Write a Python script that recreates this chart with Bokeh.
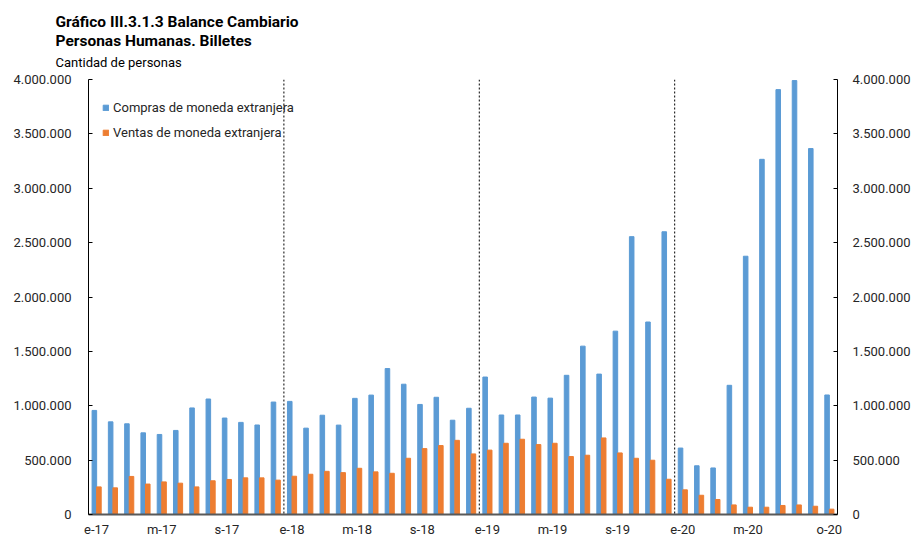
from bokeh.plotting import figure
from bokeh.models import (ColumnDataSource, LinearAxis, FixedTicker, Span, Title, Range1d)
from bokeh.embed import file_html
from bokeh.resources import INLINE

# ---- data ----
years = ["17", "18", "19", "20"]
month_abbr = ["e", "f", "m", "a", "m", "j", "j", "a", "s", "o", "n", "d"]
months = [f"{m}-{y}" for y in years for m in month_abbr][:46]

compras = [957000, 852000, 834000, 751000, 736000, 773000, 980000, 1062000, 887000, 847000, 823000, 1034000,
           1040000, 794000, 913000, 822000, 1068000, 1098000, 1342000, 1198000, 1012000, 1078000, 867000, 977000,
           1264000, 915000, 915000, 1080000, 1070000, 1280000, 1548000, 1291000, 1686000, 2555000, 1770000, 2600000,
           611000, 448000, 428000, 1188000, 2375000, 3266000, 3907000, 3990000, 3365000, 1099000]
ventas = [254000, 245000, 350000, 280000, 300000, 288000, 254000, 310000, 322000, 337000, 337000, 316000,
          352000, 370000, 397000, 385000, 425000, 392000, 379000, 517000, 606000, 634000, 682000, 557000,
          592000, 655000, 692000, 643000, 655000, 533000, 545000, 704000, 566000, 517000, 499000, 324000,
          227000, 177000, 138000, 88000, 67000, 67000, 83000, 88000, 76000, 49000]

x_tick_idx = [0, 4, 8, 12, 16, 20, 24, 28, 32, 36, 40, 45]
x_tick_labels = ["e-17", "m-17", "s-17", "e-18", "m-18", "s-18", "e-19", "m-19", "s-19", "e-20", "m-20", "o-20"]
y_ticks = [0, 500000, 1000000, 1500000, 2000000, 2500000, 3000000, 3500000, 4000000]
y_tick_labels = ["0", "500.000", "1.000.000", "1.500.000", "2.000.000", "2.500.000", "3.000.000", "3.500.000", "4.000.000"]
year_breaks = [11.5, 23.5, 35.5]

title_lines = ["Gráfico III.3.1.3 Balance Cambiario", "Personas Humanas. Billetes", "Cantidad de personas"]
series_names = ["Compras de moneda extranjera", "Ventas de moneda extranjera"]

BLUE = "#5B9BD5"
ORANGE = "#ED7D31"
FONT = "Roboto"

idx = list(range(len(months)))
src = ColumnDataSource(dict(
    xb=[i - 0.14 for i in idx],
    xo=[i + 0.14 for i in idx],
    compras=compras, ventas=ventas, mes=months))

p = figure(width=913, height=539, x_range=Range1d(-0.5, len(months) - 0.5),
           y_range=Range1d(0, 4000000), output_backend="svg", toolbar_location=None,
           min_border_left=88, min_border_right=76, min_border_top=0, min_border_bottom=24)
p.outline_line_color = None
p.xgrid.visible = False
p.ygrid.visible = False
p.background_fill_color = "white"

p.vbar(x="xb", top="compras", width=0.28, source=src, color=BLUE, legend_label=series_names[0])
p.vbar(x="xo", top="ventas", width=0.28, source=src, color=ORANGE, legend_label=series_names[1])

for loc in year_breaks:
    p.add_layout(Span(location=loc, dimension="height", line_color="black", line_width=1, line_dash="2 2"))

# x axis
xa = p.xaxis[0]
xa.ticker = FixedTicker(ticks=x_tick_idx)
xa.major_label_overrides = {i: l for i, l in zip(x_tick_idx, x_tick_labels)}
xa.axis_line_color = "#595959"
xa.axis_line_width = 2
xa.major_tick_line_color = None
xa.minor_tick_line_color = None
xa.major_label_standoff = 1
xa.major_label_text_font = FONT
xa.major_label_text_font_size = "13px"
xa.major_label_text_color = "#262626"

y_over = {t: l for t, l in zip(y_ticks, y_tick_labels)}
ya = p.yaxis[0]
yr = LinearAxis()
p.add_layout(yr, "right")
for ax, so in ((ya, 17), (yr, 15)):
    ax.ticker = FixedTicker(ticks=y_ticks)
    ax.major_label_overrides = y_over
    ax.axis_line_color = "black"
    ax.axis_line_width = 1
    ax.major_tick_in = 4
    ax.major_tick_out = 0
    ax.major_tick_line_color = "black"
    ax.minor_tick_line_color = None
    ax.major_label_standoff = so
    ax.major_label_text_font = FONT
    ax.major_label_text_font_size = "13px"
    ax.major_label_text_color = "#262626"

# legend
lg = p.legend[0]
lg.location = (14, 372)
lg.padding = 0
lg.margin = 0
lg.spacing = 5
lg.border_line_color = None
lg.background_fill_alpha = 0
lg.glyph_width = 7
lg.glyph_height = 7
lg.label_height = 20
lg.label_standoff = 4
lg.label_text_font = FONT
lg.label_text_font_size = "13px"
lg.label_text_color = "#262626"

# title lines (first added = closest to the plot)
p.add_layout(Title(text=title_lines[2], align="left", offset=-33, standoff=18.6,
                   text_font=FONT, text_font_size="13px", text_font_style="normal",
                   text_color="black"), "above")
p.add_layout(Title(text=title_lines[1], align="left", offset=-33, standoff=-13.2,
                   text_font=FONT, text_font_size="15.5px", text_font_style="bold",
                   text_color="black"), "above")
p.add_layout(Title(text=title_lines[0], align="left", offset=-33, standoff=12,
                   text_font=FONT, text_font_size="15.5px", text_font_style="bold",
                   text_color="black"), "above")
p.add_layout(Title(text=" ", align="left", standoff=0,
                   text_font=FONT, text_font_size="2px"), "above")

open("out.html", "w").write(file_html(p, INLINE))
